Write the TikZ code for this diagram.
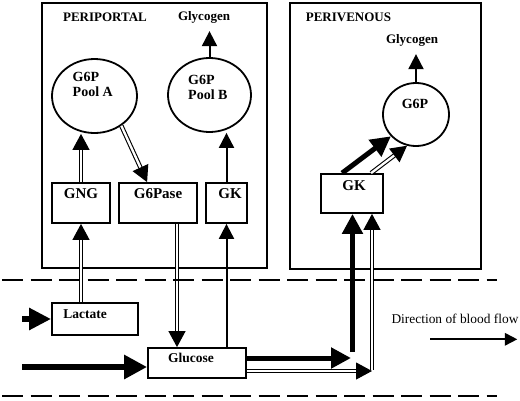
\documentclass[tikz,border=0pt]{standalone}
\usepackage{fontspec}
\setmainfont{Liberation Serif}
\usetikzlibrary{arrows.meta,shapes.geometric,calc}
\begin{document}
\begin{tikzpicture}[x=1pt,y=-1pt,
  panel/.style={draw, line width=2.9pt, inner sep=0pt},
  box/.style={draw, line width=1.8pt, inner sep=0pt, font=\bfseries\fontsize{15}{17}\selectfont},
  smallbox/.style={box, font=\bfseries\fontsize{13.5}{15}\selectfont},
  pool/.style={ellipse, draw, line width=1.8pt, inner sep=0pt},
  lbl/.style={font=\bfseries\fontsize{13}{15}\selectfont, inner sep=0pt},
  pooltext/.style={font=\bfseries\fontsize{14}{15}\selectfont, inner sep=0pt, align=left, anchor=west},
  single/.style={line width=2pt, -{Triangle[length=15pt,width=15pt]}},
  dbl/.style={double, double distance=2.3pt, line width=1.1pt, -{Triangle[length=16pt,width=17pt]}},
  heavy/.style={line width=5pt, -{Triangle[length=20pt,width=20pt]}},
  membrane/.style={line width=2.7pt, dash pattern=on 21pt off 7.5pt}
]
\useasboundingbox (0,0) rectangle (520,400);

% panels
\node[panel, minimum width=225pt, minimum height=265pt] (pp) at (154.5,135.5) {};
\node[panel, minimum width=191pt, minimum height=266pt] (pv) at (385.5,136) {};

% titles
\node[lbl] (ppT) at (105,17) {PERIPORTAL};
\node[lbl] (glyA) at (204,17) {Glycogen};
\node[lbl] (pvT) at (348.5,17) {PERIVENOUS};
\node[lbl] (glyB) at (412,40) {Glycogen};

% pools
\node[pool, minimum width=85pt, minimum height=74pt] (poolA) at (94.5,96) {};
\node[pool, minimum width=83pt, minimum height=74pt] (poolB) at (209.5,95) {};
\node[pool, minimum width=66pt, minimum height=63pt] (g6p) at (416,114.5) {};
\node[pooltext] (poolAT) at (72.5,84.5) {G6P\\Pool A};
\node[pooltext] (poolBT) at (188,87.5) {G6P\\Pool B};
\node[lbl, font=\bfseries\fontsize{14}{15}\selectfont] (g6pT) at (415,104) {G6P};

% enzyme boxes
\node[box, minimum width=58pt, minimum height=40pt, text height=10pt, text depth=20pt] (gng) at (81,203) {GNG};
\node[box, minimum width=78pt, minimum height=40pt, text height=10pt, text depth=20pt] (g6pase) at (158,203) {G6Pase};
\node[box, minimum width=41pt, minimum height=40pt, text height=10pt, text depth=20pt] (gk1) at (226.5,203) {\hspace*{7pt}GK};
\node[box, minimum width=62pt, minimum height=39pt, text height=10pt, text depth=16pt] (gk2) at (352,193.5) {\hspace*{4pt}GK};
\node[smallbox, minimum width=86pt, minimum height=32pt, text height=10pt, text depth=11pt] (lactate) at (95,319) {Lactate\hspace*{20pt}};
\node[smallbox, minimum width=98pt, minimum height=30pt, text height=10pt, text depth=11pt] (glucose) at (197,363) {Glucose\hspace*{12pt}};

% free ends
\coordinate (lacin) at (22,319);
\coordinate (glin) at (22,367);
\coordinate (j1) at (351,358);
\coordinate (j1v) at (352.5,352);
\coordinate (j2) at (372,371);
\coordinate (g6out) at ($(g6pase.south)+(19,0)$);
\coordinate (gkoutA) at ($(gk2.north west)+(22,0)$);
\coordinate (gkoutB) at ($(gk2.north west)+(51,0)$);
\coordinate (glyAin) at ($(poolB.north |- glyA.south)+(0,8)$);
\coordinate (glyBin) at ($(g6p.north |- glyB.south)+(0,8)$);

% periportal connectors
\draw[dbl] (gng.north) -- (gng.north |- poolA.south);
\draw[dbl] (poolA.-48) -- ($(g6pase.north west)+(29,0)$);
\draw[single] (poolB.north) -- (glyAin);
\draw[single] (gk1.north) -- (gk1.north |- poolB.south);
\draw[dbl] (gng.south |- lactate.north) -- (gng.south);
\draw[dbl] (g6out) -- (g6out |- glucose.north);
\draw[single] (gk1.south |- glucose.north) -- (gk1.south);

% blood inputs
\draw[line width=6pt, -{Triangle[length=22pt,width=21pt]}] (lacin) -- (lactate.west);
\draw[line width=6.5pt, -{Triangle[length=23pt,width=23pt]}] (glin) -- (glin -| glucose.west);

% glucose to perivenous
\draw[heavy] (glucose.east |- j1) -- (j1);
\draw[heavy] (j1v) -- (j1v |- gk2.south);
\draw[dbl] (glucose.east |- j2) -- (j2);
\draw[dbl] ($(j2)+(0,-1)$) -- (j2 |- gk2.south);

% perivenous connectors
\draw[heavy] (gkoutA) -- (g6p.221);
\draw[dbl] (gkoutB) -- (g6p.254);
\draw[single] (g6p.north) -- (glyBin);

% blood flow
\node[font=\fontsize{13.4}{15}\selectfont, inner sep=0pt] (bfT) at (455,318.5) {Direction of blood flow};
\coordinate (bfA) at (430,339.3);
\coordinate (bfB) at (517.3,339.3);
\draw[line width=1.8pt, -{Triangle[length=12.5pt,width=12.5pt]}] (bfA) -- (bfB);

% membranes
\coordinate (mTl) at (2,280);
\coordinate (mTr) at (497,280);
\coordinate (mBl) at (2,396);
\coordinate (mBr) at (497,396);
\draw[membrane] (mTl) -- (mTr);
\draw[membrane] (mBl) -- (mBr);
\end{tikzpicture}
\end{document}
